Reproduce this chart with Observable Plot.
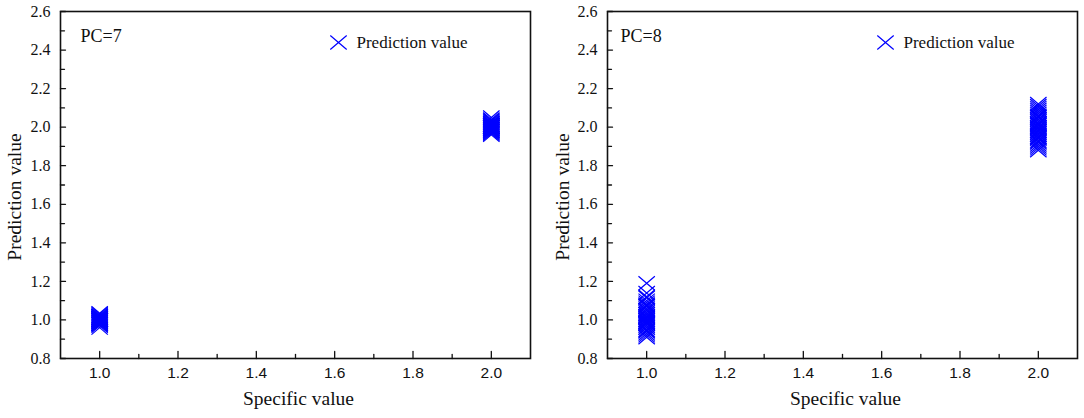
<!DOCTYPE html>
<html><head><meta charset="utf-8">
<script src="https://cdn.jsdelivr.net/npm/d3@7"></script>
<script src="https://cdn.jsdelivr.net/npm/@observablehq/plot@0.6"></script>
<style>
body{margin:0;background:#fff;}
#wrap{display:flex;width:1084px;height:418px;}
#wrap svg{display:block;}
</style></head><body><div id="wrap"></div>
<script>
// ---- data ----
const pc7Class1 = [1.00, 0.99, 1.01, 1.02, 0.98, 1.00, 1.03, 0.97, 1.00, 1.01, 0.99, 1.02, 0.96, 1.00, 1.01, 0.98, 1.00, 1.035, 0.99, 1.01, 1.00, 0.98, 1.02, 0.975, 1.005, 0.995, 1.015, 0.985, 1.025, 1.00];
const pc7Class2 = [2.00, 2.01, 1.99, 2.02, 1.98, 2.00, 2.03, 1.97, 2.00, 2.01, 1.99, 2.05, 1.96, 2.00, 2.02, 1.98, 2.04, 2.00, 1.99, 2.01, 1.965, 2.005, 1.995, 2.015, 1.985, 2.025, 1.975, 2.035, 2.00, 2.01];
const pc8Class1 = [1.19, 1.14, 1.12, 1.10, 1.09, 1.08, 1.07, 1.06, 1.05, 1.04, 1.03, 1.02, 1.01, 1.00, 0.99, 0.98, 0.97, 0.96, 0.95, 0.94, 0.93, 0.92, 0.91, 1.05, 1.00, 0.98, 1.02, 0.96, 1.03, 0.99, 1.075, 0.945, 1.015, 0.985, 1.115];
const pc8Class2 = [2.12, 2.11, 2.10, 2.09, 2.08, 2.07, 2.06, 2.05, 2.04, 2.03, 2.02, 2.01, 2.00, 1.99, 1.98, 1.97, 1.96, 1.95, 1.94, 1.93, 1.92, 1.91, 1.90, 1.89, 1.88, 2.00, 1.98, 2.02, 1.96, 2.04, 1.995, 2.015, 1.945, 2.055, 1.925];
const panelLabels = ["PC=7", "PC=8"];
const legendLabel = "Prediction value";
const xTitle = "Specific value";
const yTitle = "Prediction value";
const xDomain = [0.9, 2.1];
const yDomain = [0.8, 2.6];
const xMajor = [1.0, 1.2, 1.4, 1.6, 1.8, 2.0];
const xMinor = [1.1, 1.3, 1.5, 1.7, 1.9];
const yMajor = [0.8, 1.0, 1.2, 1.4, 1.6, 1.8, 2.0, 2.2, 2.4, 2.6];
const yMinor = [0.9, 1.1, 1.3, 1.5, 1.7, 1.9, 2.1, 2.3, 2.5];

const toRows = (c1, c2) => [
  ...c1.map(v => ({specific: 1.0, pred: v})),
  ...c2.map(v => ({specific: 2.0, pred: v}))
];

const BLUE = "#0000ff";
const SERIF = "'Liberation Serif', 'Times New Roman', serif";
const SANS = "'Liberation Sans', Arial, sans-serif";

const cross = {draw(ctx) { const w = 8.2, h = 7; ctx.moveTo(-w, -h); ctx.lineTo(w, h); ctx.moveTo(-w, h); ctx.lineTo(w, -h); }};
const tickShape = {draw(ctx, l) { ctx.moveTo(0, 0); ctx.lineTo(0, -l); }};

function panel(rows, label, o) {
  return Plot.plot({
    width: 542, height: 418,
    marginLeft: o.ml, marginRight: o.mr, marginTop: 11, marginBottom: 60,
    x: {domain: xDomain, axis: null},
    y: {domain: yDomain, axis: null},
    style: {background: "#fff", overflow: "visible"},
    marks: [
      Plot.dot(rows, {x: "specific", y: "pred", symbol: cross, stroke: BLUE, fill: "none", strokeWidth: 1.2}),
      Plot.frame({stroke: "#111", strokeWidth: 1.6}),
      Plot.vector(xMajor, {x: d => d, frameAnchor: "bottom", length: 7, anchor: "start", shape: tickShape, stroke: "#111", strokeWidth: 1.3}),
      Plot.vector(xMinor, {x: d => d, frameAnchor: "bottom", length: 4, anchor: "start", shape: tickShape, stroke: "#111", strokeWidth: 1.3}),
      Plot.vector(yMajor, {y: d => d, frameAnchor: "left", length: 5, rotate: 90, anchor: "start", shape: tickShape, stroke: "#111", strokeWidth: 1.3}),
      Plot.vector(yMinor, {y: d => d, frameAnchor: "left", length: 4, rotate: 90, anchor: "start", shape: tickShape, stroke: "#111", strokeWidth: 1.3}),
      Plot.axisX(xMajor, {tickSize: 0, tickPadding: 8, tickFormat: d3.format(".1f"), fontFamily: SANS, fontSize: 15.5, fill: "#111", label: null}),
      Plot.axisY(yMajor, {tickSize: 0, tickPadding: 10, tickFormat: d3.format(".1f"), fontFamily: SERIF, fontSize: 16, fill: "#111", label: null}),
      Plot.text([xTitle], {frameAnchor: "bottom", textAnchor: "middle", lineAnchor: "middle", dy: 40, dx: 3, fontFamily: SERIF, fontSize: 19.5, fill: "#111"}),
      Plot.text([yTitle], {frameAnchor: "left", textAnchor: "middle", lineAnchor: "middle", rotate: -90, dx: o.ylab, dy: 12, fontFamily: SERIF, fontSize: 19.5, fill: "#111"}),
      Plot.text([label], {frameAnchor: "top-left", textAnchor: "start", lineAnchor: "middle", dx: o.pcx, dy: 25, fontFamily: SERIF, fontSize: 18, fill: "#111"}),
      Plot.dot([legendLabel], {frameAnchor: "top-left", dx: 278, dy: 31, symbol: cross, stroke: BLUE, fill: "none", strokeWidth: 1.2}),
      Plot.text([legendLabel], {frameAnchor: "top-left", textAnchor: "start", lineAnchor: "middle", dx: 296, dy: 31, fontFamily: SERIF, fontSize: 17, fill: "#111"})
    ]
  });
}

const wrap = document.getElementById("wrap");
wrap.appendChild(panel(toRows(pc7Class1, pc7Class2), panelLabels[0], {ml: 60, mr: 12, ylab: -46, pcx: 20}));
wrap.appendChild(panel(toRows(pc8Class1, pc8Class2), panelLabels[1], {ml: 65, mr: 7, ylab: -45, pcx: 13}));
</script></body></html>
